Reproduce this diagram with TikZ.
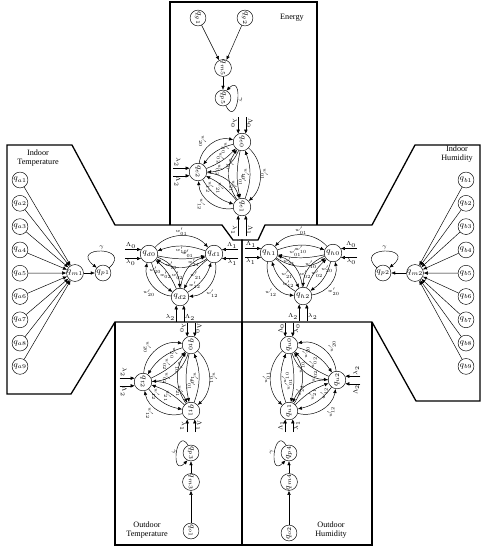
\documentclass[tikz,border=0pt]{standalone}
\usepackage{fontspec}
\setmainfont{Liberation Serif}
\usetikzlibrary{arrows.meta}

\tikzset{
  state/.style={draw,circle,minimum size=15pt,inner sep=0pt,font=\scriptsize},
  src/.style={draw,circle,minimum size=13.5pt,inner sep=0pt,font=\scriptsize},
  region/.style={draw,line width=1.1pt,line join=miter},
  arr/.style={-{Latex[length=3.5pt,width=3pt]},line width=0.4pt},
  wlab/.style={font=\tiny,inner sep=0.4pt},
  ilab/.style={font=\tiny,inner sep=0.8pt},
  title/.style={font=\scriptsize,align=center},
  labn/.style={auto}, labm/.style={auto,swap},
  onln/.style={}, onlm/.style={}
}

\begin{document}
\begin{tikzpicture}[x=0.03cm,y=-0.03cm]
  \useasboundingbox (0,0) rectangle (484,550);

  % regions
  \draw[region] (7,145) -- (72,145) -- (115,225) -- (222,225) -- (233,240) -- (242,240) -- (242,322) -- (115,322) -- (71,394) -- (7,394) -- cycle;
  \draw[region] (480,145) -- (415,145) -- (372,225) -- (265,225) -- (258,240) -- (242,240) -- (242,322) -- (372,322) -- (416,401) -- (480,401) -- cycle;
  \draw[region] (170,225) -- (170,2) -- (317,2) -- (317,225);
  \draw[region] (115,322) -- (115,545) -- (372,545) -- (372,322);
  \draw[region] (242,322) -- (242,545);

  \node[title] (tIT) at (38,158) {Indoor\\Temperature};
  \node[title] (tIH) at (457,154) {Indoor\\Humidity};
  \node[title] (tEn) at (292,18) {Energy};
  \node[title] (tOT) at (147,530) {Outdoor\\Temperature};
  \node[title] (tOH) at (331,530) {Outdoor\\Humidity};

  % indoor sources
  \foreach \k in {1,...,9} {
    \node[src] (a\k) at (20,{180+23.3*(\k-1)}) {$q_{a\k}$};
    \node[src] (b\k) at (466,{180+23.3*(\k-1)}) {$q_{b\k}$};
  }
  \node[src] (m1) at (75,273) {$q_{m1}$};
  \node[src] (p1) at (103,273) {$q_{p1}$};
  \node[src] (m2) at (415,273) {$q_{m2}$};
  \node[src] (p2) at (383,273) {$q_{p2}$};
  \foreach \k in {1,...,9} {
    \draw[arr] (a\k) -- (m1);
    \draw[arr] (b\k) -- (m2);
  }
  \draw[arr] (m1) -- (p1);
  \draw[arr] (m2) -- (p2);
  \draw[arr] (p1.40) .. controls +(24,-22) and +(-28,-22) .. (p1.140) node[ilab,pos=0.5,above]{$\gamma$};
  \draw[arr] (p2.140) .. controls +(-24,-22) and +(28,-22) .. (p2.40) node[ilab,pos=0.5,above]{$\gamma$};

  % energy chain
  \node[src] (g1) at (198,18) {\rotatebox{-90}{$q_{g1}$}};
  \node[src] (g2) at (245,18) {\rotatebox{-90}{$q_{g2}$}};
  \node[src] (m5) at (223,68) {\rotatebox{-90}{$q_{m5}$}};
  \node[src] (p5) at (223,98) {\rotatebox{-90}{$q_{p5}$}};
  \draw[arr] (g1) -- (m5);
  \draw[arr] (g2) -- (m5);
  \draw[arr] (m5) -- (p5);
  \draw[arr] (p5.-70) .. controls +(12,24) and +(18,-18) .. (p5.65) node[ilab,pos=0.5,right]{\rotatebox{-90}{$\gamma$}};

  % outdoor chains
  \node[src] (o1) at (191,531) {\rotatebox{-90}{$q_{o1}$}};
  \node[src] (m3) at (191,482) {\rotatebox{-90}{$q_{m3}$}};
  \node[src] (p3) at (191,453) {\rotatebox{-90}{$q_{p3}$}};
  \node[src] (o2) at (289,533) {\rotatebox{90}{$q_{o2}$}};
  \node[src] (m4) at (289,482) {\rotatebox{90}{$q_{m4}$}};
  \node[src] (p4) at (289,453) {\rotatebox{90}{$q_{p4}$}};
  \draw[arr] (o1) -- (m3);
  \draw[arr] (m3) -- (p3);
  \draw[arr] (o2) -- (m4);
  \draw[arr] (m4) -- (p4);
  \draw[arr] (p3.110) .. controls +(-12,-20) and +(-18,18) .. (p3.-115) node[ilab,pos=0.5,left]{\rotatebox{-90}{$\gamma$}};
  \draw[arr] (p4.110) .. controls +(-12,-20) and +(-18,18) .. (p4.-115) node[ilab,pos=0.5,left]{\rotatebox{90}{$\gamma$}};

  % three-state chains
  \node[state] (d0) at (149,254) {$q_{d0}$};
  \node[state] (d1) at (214,254) {$q_{d1}$};
  \node[state] (d2) at (180,297) {$q_{d2}$};
  \node[state] (h1) at (269,253) {$q_{h1}$};
  \node[state] (h0) at (333,253) {$q_{h0}$};
  \node[state] (h2) at (303,296) {$q_{h2}$};
  \node[state] (e0) at (242,142) {\rotatebox{-90}{$q_{e0}$}};
  \node[state] (e1) at (242,207) {\rotatebox{-90}{$q_{e1}$}};
  \node[state] (e2) at (198,172) {\rotatebox{-90}{$q_{e2}$}};
  \node[state] (t0) at (191,345) {\rotatebox{-90}{$q_{t0}$}};
  \node[state] (t1) at (191,411) {\rotatebox{-90}{$q_{t1}$}};
  \node[state] (t2) at (143,382) {\rotatebox{-90}{$q_{t2}$}};
  \node[state] (u0) at (289,345) {\rotatebox{90}{$q_{u0}$}};
  \node[state] (u1) at (289,411) {\rotatebox{90}{$q_{u1}$}};
  \node[state] (u2) at (337,380) {\rotatebox{90}{$q_{u2}$}};

  % transition arcs (sign 1: counter-clockwise layout, -1: mirrored)
  \foreach \p/\r/\m/\ls in {d/0/1/n,e/-90/1/n,t/-90/1/n,h/0/-1/m,u/90/-1/m} {
    \foreach \i/\j/\s/\q/\a in {0/1/48/0.5/lab,1/2/48/0.62/lab,2/0/48/0.38/lab,
                                1/0/-20/0.5/lab,2/1/-20/0.5/lab,0/2/-20/0.5/lab,
                                0/1/-12/0.78/lab,1/2/-12/0.78/lab,2/0/-12/0.78/lab,
                                1/0/34/0.7/onl,2/1/34/0.7/onl,0/2/34/0.7/onl} {
      \pgfmathsetmacro\bb{\m*\s}
      \draw[arr] (\p\i) to[bend left=\bb] node[wlab,\a\ls,pos=\q]{\rotatebox{\r}{\scalebox{0.8}{$w'_{\i\j}$}}} (\p\j);
    }
  }

  % inputs, indoor temperature
  \draw[arr] ([xshift=-14pt]d0.150) node[ilab,above right]{$\Lambda_0$} -- (d0.150);
  \draw[arr] ([xshift=-14pt]d0.210) node[ilab,below right]{$\lambda_0$} -- (d0.210);
  \draw[arr] ([xshift=14pt]d1.30) node[ilab,above left]{$\Lambda_1$} -- (d1.30);
  \draw[arr] ([xshift=14pt]d1.-30) node[ilab,below left]{$\lambda_1$} -- (d1.-30);
  \draw[arr] ([yshift=-14pt]d2.-115) node[ilab,above left]{$\lambda_2$} -- (d2.-115);
  \draw[arr] ([yshift=-14pt]d2.-65) node[ilab,above right]{$\Lambda_2$} -- (d2.-65);
  % inputs, indoor humidity
  \draw[arr] ([xshift=-14pt]h1.150) node[ilab,above right]{$\Lambda_1$} -- (h1.150);
  \draw[arr] ([xshift=-14pt]h1.210) node[ilab,below right]{$\lambda_1$} -- (h1.210);
  \draw[arr] ([xshift=14pt]h0.30) node[ilab,above left]{$\Lambda_0$} -- (h0.30);
  \draw[arr] ([xshift=14pt]h0.-30) node[ilab,below left]{$\lambda_0$} -- (h0.-30);
  \draw[arr] ([yshift=-14pt]h2.-115) node[ilab,above left]{$\Lambda_2$} -- (h2.-115);
  \draw[arr] ([yshift=-14pt]h2.-65) node[ilab,above right]{$\lambda_2$} -- (h2.-65);
  % inputs, energy
  \draw[arr] ([yshift=14pt]e0.115) node[ilab,below left]{\rotatebox{-90}{$\lambda_0$}} -- (e0.115);
  \draw[arr] ([yshift=14pt]e0.65) node[ilab,below right]{\rotatebox{-90}{$\Lambda_0$}} -- (e0.65);
  \draw[arr] ([yshift=-18pt]e1.-115) node[ilab,above left]{\rotatebox{-90}{$\lambda_1$}} -- (e1.-115);
  \draw[arr] ([yshift=-18pt]e1.-65) node[ilab,above right]{\rotatebox{-90}{$\Lambda_1$}} -- (e1.-65);
  \draw[arr] ([xshift=-14pt]e2.155) node[ilab,above right]{\rotatebox{-90}{$\lambda_2$}} -- (e2.155);
  \draw[arr] ([xshift=-14pt]e2.205) node[ilab,below right]{\rotatebox{-90}{$\Lambda_2$}} -- (e2.205);
  % inputs, outdoor temperature
  \draw[arr] ([yshift=12pt]t0.115) node[ilab,below left]{\rotatebox{-90}{$\lambda_0$}} -- (t0.115);
  \draw[arr] ([yshift=12pt]t0.65) node[ilab,below right]{\rotatebox{-90}{$\Lambda_0$}} -- (t0.65);
  \draw[arr] ([yshift=-11pt]t1.-115) node[ilab,above left]{\rotatebox{-90}{$\lambda_1$}} -- (t1.-115);
  \draw[arr] ([yshift=-11pt]t1.-65) node[ilab,above right]{\rotatebox{-90}{$\Lambda_1$}} -- (t1.-65);
  \draw[arr] ([xshift=-13pt]t2.155) node[ilab,above right]{\rotatebox{-90}{$\lambda_2$}} -- (t2.155);
  \draw[arr] ([xshift=-13pt]t2.205) node[ilab,below right]{\rotatebox{-90}{$\Lambda_2$}} -- (t2.205);
  % inputs, outdoor humidity
  \draw[arr] ([yshift=12pt]u0.115) node[ilab,below left]{\rotatebox{90}{$\Lambda_0$}} -- (u0.115);
  \draw[arr] ([yshift=12pt]u0.65) node[ilab,below right]{\rotatebox{90}{$\lambda_0$}} -- (u0.65);
  \draw[arr] ([yshift=-11pt]u1.-115) node[ilab,above left]{\rotatebox{90}{$\Lambda_1$}} -- (u1.-115);
  \draw[arr] ([yshift=-11pt]u1.-65) node[ilab,above right]{\rotatebox{90}{$\lambda_1$}} -- (u1.-65);
  \draw[arr] ([xshift=13pt]u2.25) node[ilab,above left]{\rotatebox{90}{$\lambda_2$}} -- (u2.25);
  \draw[arr] ([xshift=13pt]u2.-25) node[ilab,below left]{\rotatebox{90}{$\Lambda_2$}} -- (u2.-25);
\end{tikzpicture}
\end{document}
